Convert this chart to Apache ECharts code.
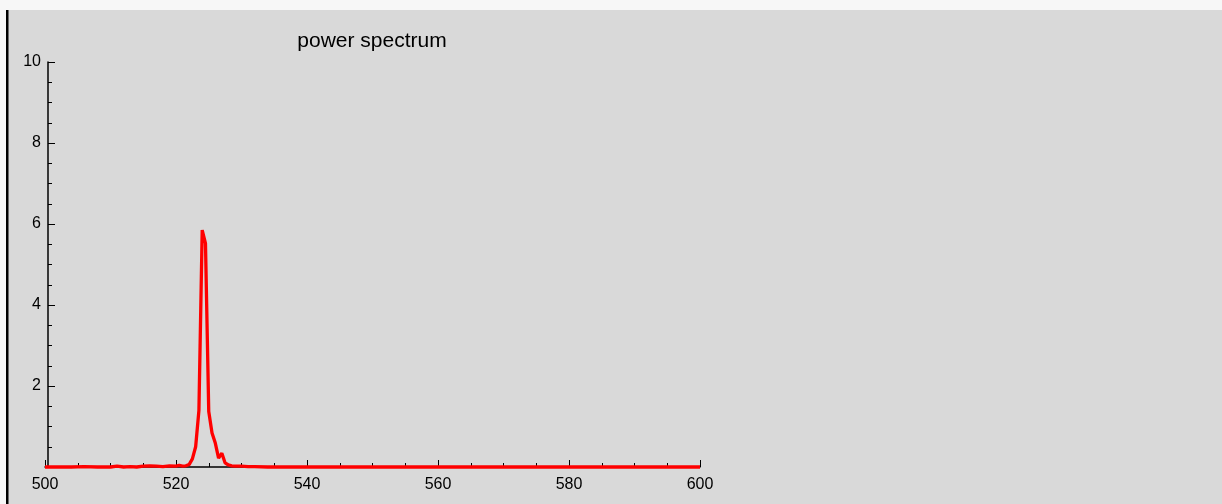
<!DOCTYPE html>
<html>
<head>
<meta charset="utf-8">
<script src="https://cdn.jsdelivr.net/npm/echarts@6/dist/echarts.min.js"></script>
<style>
  html, body { margin: 0; padding: 0; background: #f7f7f7; }
  #chart { width: 1222px; height: 504px; }
</style>
</head>
<body>
<div id="chart"></div>
<script>
// wavelength (x) and power (y)
var wavelength = [500, 502, 504, 506, 508, 510, 511, 512, 513, 514, 515, 516, 517, 518, 519, 520,
  520.5, 521, 521.5, 522, 522.5, 523, 523.5, 524, 524.5, 525, 525.5, 526, 526.5, 527, 527.5,
  528, 528.5, 529, 530, 531, 532, 534, 536, 540, 545, 550, 555, 560, 565, 570, 575, 580, 585, 590, 595, 600];
var power = [0, 0, 0, 0.01, 0, 0, 0.02, 0, 0.01, 0, 0.02, 0.03, 0.02, 0.01, 0.03, 0.02,
  0.04, 0.02, 0.03, 0.06, 0.2, 0.5, 1.4, 5.85, 5.52, 1.37, 0.84, 0.59, 0.22, 0.34, 0.1,
  0.05, 0.03, 0.02, 0.02, 0.01, 0.01, 0, 0, 0, 0, 0, 0, 0, 0, 0, 0, 0, 0, 0, 0, 0];
var xTicks = [500, 520, 540, 560, 580, 600];
var yTicks = [2, 4, 6, 8, 10];

var myChart = echarts.init(document.getElementById('chart'));

var axisFont = { fontFamily: 'Liberation Sans', fontSize: 16, color: '#000' };

myChart.setOption({
  animation: false,
  backgroundColor: '#f7f7f7',
  title: {
    text: 'power spectrum',
    left: 367,
    top: 26,
    textAlign: 'center',
    textStyle: { fontFamily: 'Liberation Sans', fontSize: 21, fontWeight: 'normal', color: '#000' }
  },
  graphic: [
    { type: 'rect', z: -10, shape: { x: 6, y: 10, width: 1216, height: 494 }, style: { fill: '#d9d9d9' } },
    { type: 'rect', z: -9, shape: { x: 6, y: 10, width: 2.5, height: 494 }, style: { fill: '#000' } }
  ],
  grid: { left: 45, right: 522, top: 62, bottom: 37 },
  xAxis: {
    type: 'value',
    min: 500, max: 600, interval: 20,
    axisLine: { show: true, onZero: false, lineStyle: { color: '#000', width: 1.5 } },
    axisTick: { show: true, inside: true, length: 7, lineStyle: { color: '#000', width: 1 } },
    minorTick: { show: true, splitNumber: 4, length: 4, lineStyle: { color: '#000', width: 1 } },
    splitLine: { show: false },
    axisLabel: Object.assign({ margin: 10, formatter: function (v) {
      return xTicks.indexOf(v) >= 0 ? String(v) : '';
    } }, axisFont)
  },
  yAxis: {
    type: 'value',
    min: 0, max: 10, interval: 2,
    offset: -3,
    axisLine: { show: true, lineStyle: { color: '#000', width: 1.5 } },
    axisTick: { show: true, inside: true, length: 7, lineStyle: { color: '#000', width: 1 } },
    minorTick: { show: true, splitNumber: 4, length: 4, lineStyle: { color: '#000', width: 1 } },
    splitLine: { show: false },
    axisLabel: Object.assign({ margin: 7, formatter: function (v) {
      return yTicks.indexOf(v) >= 0 ? String(v) : '';
    } }, axisFont)
  },
  series: [
    {
      type: 'line',
      data: wavelength.map(function (w, i) { return [w, power[i]]; }),
      showSymbol: false,
      symbol: 'none',
      clip: false,
      lineStyle: { color: '#ff0000', width: 3.3 },
      z: 5
    }
  ]
});
</script>
</body>
</html>
